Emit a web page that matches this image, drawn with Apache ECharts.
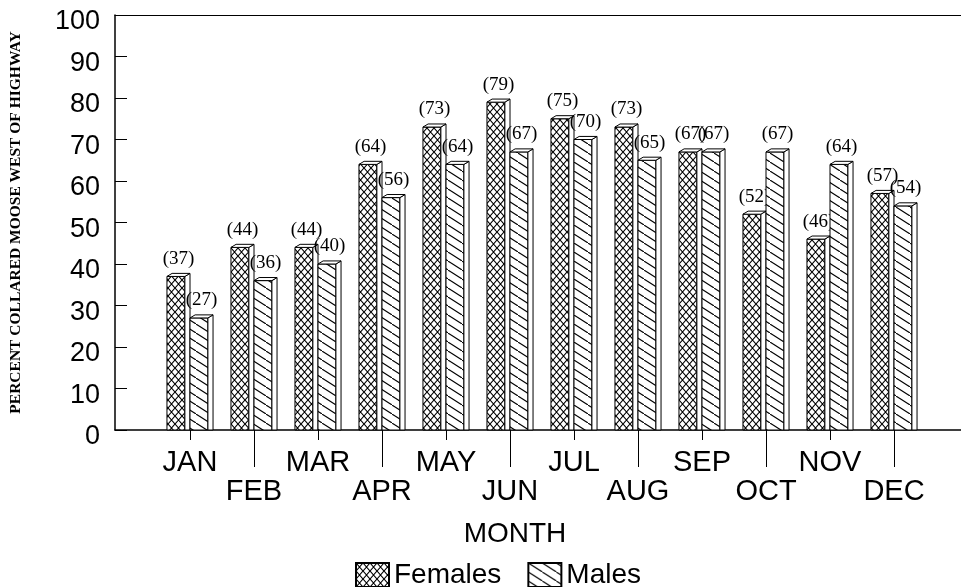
<!DOCTYPE html>
<html>
<head>
<meta charset="utf-8">
<script src="https://cdn.jsdelivr.net/npm/echarts@6/dist/echarts.min.js"></script>
<style>
  html, body { margin: 0; padding: 0; background: #fff; }
  #chart { width: 961px; height: 587px; }
</style>
</head>
<body>
<div id="chart"></div>
<script>
  var months = ['JAN', 'FEB', 'MAR', 'APR', 'MAY', 'JUN', 'JUL', 'AUG', 'SEP', 'OCT', 'NOV', 'DEC'];
  var females = [37, 44, 44, 64, 73, 79, 75, 73, 67, 52, 46, 57];
  var males = [27, 36, 40, 56, 64, 67, 70, 65, 67, 67, 64, 54];
  var yTicks = [0, 10, 20, 30, 40, 50, 60, 70, 80, 90, 100];

  // hatch patterns
  function crossHatch() {
    var c = document.createElement('canvas');
    c.width = 7; c.height = 8;
    var g = c.getContext('2d');
    g.fillStyle = '#fff'; g.fillRect(0, 0, 7, 8);
    g.strokeStyle = '#000'; g.lineWidth = 1.1;
    g.beginPath();
    g.moveTo(-0.5, -0.6); g.lineTo(7.5, 8.6);
    g.moveTo(7.5, -0.6); g.lineTo(-0.5, 8.6);
    g.stroke();
    return c;
  }
  function diagHatch() {
    var w = 14, h = 9;
    var c = document.createElement('canvas');
    c.width = w; c.height = h;
    var g = c.getContext('2d');
    g.fillStyle = '#fff'; g.fillRect(0, 0, w, h);
    g.strokeStyle = '#000'; g.lineWidth = 1.1;
    g.beginPath();
    g.moveTo(-2, -2 * h / w); g.lineTo(w + 2, h + 2 * h / w);
    g.stroke();
    return c;
  }
  var femalePat = { image: crossHatch(), repeat: 'repeat' };
  var malePat = { image: diagHatch(), repeat: 'repeat' };

  function toPairs(arr) {
    return arr.map(function (v, i) { return [i, v]; });
  }

  function makeRender(side, pat) {
    return function (params, api) {
      var i = api.value(0), v = api.value(1);
      var top = api.coord([i, v]);
      var base = api.coord([i, 0]);
      var band = api.size([1, 0])[0];
      var w = band * 0.28, d = band * 0.08, dy = d * 0.6;
      var x0 = side === 0 ? top[0] - w - d : top[0];
      var y0 = top[1];
      var line = { stroke: '#000', lineWidth: 1 };
      return {
        type: 'group',
        children: [
          { type: 'rect', shape: { x: x0, y: y0, width: w, height: base[1] - y0 },
            style: { fill: pat, stroke: '#000', lineWidth: 1 } },
          { type: 'polygon', shape: { points: [[x0 + w, y0], [x0 + w + d, y0 - dy], [x0 + w + d, base[1]], [x0 + w, base[1]]] },
            style: Object.assign({ fill: '#fff' }, line) },
          { type: 'polygon', shape: { points: [[x0, y0], [x0 + d, y0 - dy], [x0 + w + d, y0 - dy], [x0 + w, y0]] },
            style: Object.assign({ fill: '#fff' }, line) },
          { type: 'text', style: { text: '(' + v + ')', x: x0 + w / 2 + d / 2, y: y0 - dy - 5,
            textAlign: 'center', textVerticalAlign: 'bottom',
            font: '19px "Liberation Serif"', fill: '#000' } }
        ]
      };
    };
  }

  var chart = echarts.init(document.getElementById('chart'));
  var font = 'Liberation Sans';
  chart.setOption({
    backgroundColor: '#fff',
    animation: false,
    title: {
      text: 'MONTH', left: 510, top: 515, textAlign: 'center',
      textStyle: { fontFamily: font, fontSize: 28, fontWeight: 'normal', color: '#000' }
    },
    legend: {
      left: 350, top: 556, itemWidth: 33, itemHeight: 24, itemGap: 26, icon: 'rect',
      data: ['Females', 'Males'],
      textStyle: { fontFamily: font, fontSize: 28, color: '#000' }
    },
    grid: [
      { left: 110, right: 0, top: 15, bottom: 157 },
      { left: 158, width: 768, top: 15, bottom: 157 },
      { left: 158, width: 768, top: 15, bottom: 157 }
    ],
    xAxis: [
      { gridIndex: 0, type: 'value', min: 0, max: 1, position: 'bottom',
        axisLine: { show: true, lineStyle: { color: '#000', width: 1.5 } },
        axisTick: { show: false }, axisLabel: { show: false }, splitLine: { show: false } },
      { gridIndex: 0, type: 'value', min: 0, max: 1, position: 'top',
        axisLine: { show: true, lineStyle: { color: '#000', width: 1.2 } },
        axisTick: { show: false }, axisLabel: { show: false }, splitLine: { show: false } },
      { gridIndex: 1, type: 'category', data: months, position: 'bottom',
        axisLine: { show: false },
        axisTick: { show: true, alignWithLabel: true, length: 10, lineStyle: { color: '#000' },
          interval: function (i) { return i % 2 === 0; } },
        axisLabel: { interval: function (i) { return i % 2 === 0; }, margin: 18,
          fontFamily: font, fontSize: 29, color: '#000' } },
      { gridIndex: 2, type: 'category', data: months, position: 'bottom',
        axisLine: { show: false },
        axisTick: { show: true, alignWithLabel: true, length: 37, lineStyle: { color: '#000' },
          interval: function (i) { return i % 2 === 1; } },
        axisLabel: { interval: function (i) { return i % 2 === 1; }, margin: 47,
          fontFamily: font, fontSize: 29, color: '#000' } }
    ],
    yAxis: [
      { gridIndex: 0, type: 'value', min: 0, max: 100, interval: 10,
        name: 'PERCENT COLLARED MOOSE WEST OF HIGHWAY', nameLocation: 'middle', nameRotate: 90, nameGap: 91,
        nameTextStyle: { fontFamily: 'Liberation Serif', fontWeight: 'bold', fontSize: 15.5, color: '#000' },
        axisLine: { show: true, lineStyle: { color: '#000', width: 1.5 } },
        axisTick: { show: true, inside: true, length: 12, lineStyle: { color: '#000' } },
        axisLabel: { margin: 15, fontFamily: font, fontSize: 27, color: '#000',
          verticalAlign: 'top', lineHeight: 14,
          formatter: function (v) { return yTicks.indexOf(v) >= 0 ? String(v) : ''; } },
        splitLine: { show: false } },
      { gridIndex: 1, type: 'value', min: 0, max: 100, show: false },
      { gridIndex: 2, type: 'value', min: 0, max: 100, show: false }
    ],
    series: [
      { name: 'Females', type: 'custom', xAxisIndex: 2, yAxisIndex: 1,
        itemStyle: { color: femalePat, borderColor: '#000', borderWidth: 1 },
        renderItem: makeRender(0, femalePat), encode: { x: 0, y: 1 }, data: toPairs(females) },
      { name: 'Males', type: 'custom', xAxisIndex: 2, yAxisIndex: 1,
        itemStyle: { color: malePat, borderColor: '#000', borderWidth: 1 },
        renderItem: makeRender(1, malePat), encode: { x: 0, y: 1 }, data: toPairs(males) }
    ]
  });
</script>
</body>
</html>
